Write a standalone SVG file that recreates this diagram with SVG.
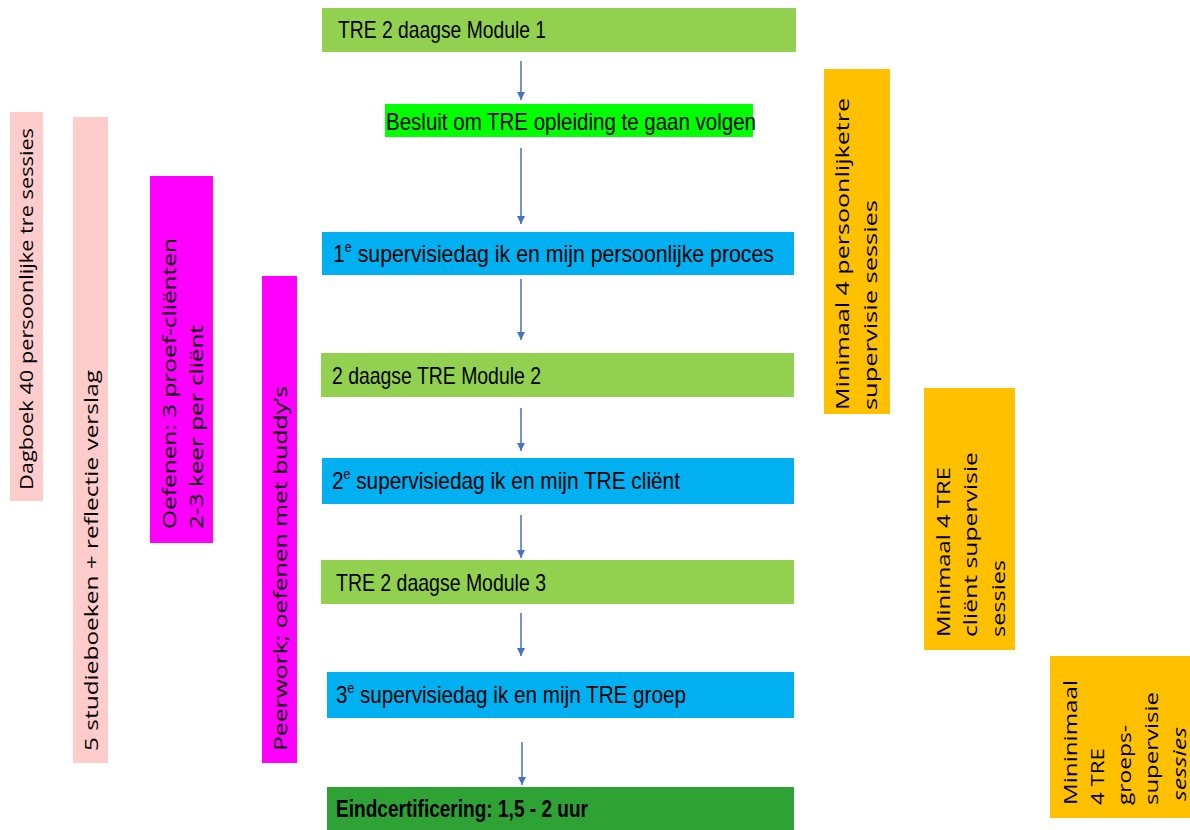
<svg xmlns="http://www.w3.org/2000/svg" width="1190" height="830" viewBox="0 0 1190 830">
<defs>
<style>
.t{font-family:"Liberation Sans",Arial,sans-serif;font-size:24px;fill:#000}
.b{font-weight:bold}
.v{font-family:"Open Sans","DejaVu Sans",sans-serif;font-size:18px;fill:#000}
.lg{fill:#92D050}
.bg{fill:#00FF00}
.bl{fill:#00B0F0}
.dg{fill:#2FA236}
.pk{fill:#FFCCCC}
.mg{fill:#FF00FF}
.or{fill:#FFC000}
.conn line{stroke:#4472C4;stroke-width:1.5;marker-end:url(#ah)}
</style>
<marker id="ah" viewBox="0 0 10 10" refX="10" refY="5" markerWidth="5.5" markerHeight="5.5" orient="auto" markerUnits="strokeWidth">
<path d="M0,0 L10,5 L0,10 z" fill="#4472C4"/>
</marker>
</defs>
<rect width="1190" height="830" fill="#fff"/>

<g id="n-module1">
<rect class="lg" x="322" y="8" width="474" height="44"/>
<text class="t" x="338" y="38" textLength="208" lengthAdjust="spacingAndGlyphs">TRE 2 daagse Module 1</text>
</g>
<g id="n-besluit">
<rect class="bg" x="385" y="104" width="368" height="33"/>
<text class="t" x="386" y="130" textLength="370" lengthAdjust="spacingAndGlyphs">Besluit om TRE opleiding te gaan volgen</text>
</g>
<g id="n-super1">
<rect class="bl" x="322" y="232" width="472" height="43"/>
<text class="t" x="333" y="262" textLength="441" lengthAdjust="spacingAndGlyphs">1<tspan font-size="14" dy="-10">e</tspan><tspan dy="10"> supervisiedag ik en mijn persoonlijke proces</tspan></text>
</g>
<g id="n-module2">
<rect class="lg" x="321" y="353" width="473" height="44"/>
<text class="t" x="332" y="384" textLength="209" lengthAdjust="spacingAndGlyphs">2 daagse TRE Module 2</text>
</g>
<g id="n-super2">
<rect class="bl" x="322" y="458" width="472" height="46"/>
<text class="t" x="332" y="489" textLength="348" lengthAdjust="spacingAndGlyphs">2<tspan font-size="14" dy="-10">e</tspan><tspan dy="10"> supervisiedag ik en mijn TRE cliënt</tspan></text>
</g>
<g id="n-module3">
<rect class="lg" x="321" y="560" width="473" height="44"/>
<text class="t" x="336" y="591" textLength="210" lengthAdjust="spacingAndGlyphs">TRE 2 daagse Module 3</text>
</g>
<g id="n-super3">
<rect class="bl" x="327" y="672" width="467" height="46"/>
<text class="t" x="336" y="703" textLength="350" lengthAdjust="spacingAndGlyphs">3<tspan font-size="14" dy="-10">e</tspan><tspan dy="10"> supervisiedag ik en mijn TRE groep</tspan></text>
</g>
<g id="n-eind">
<rect class="dg" x="327" y="787" width="467" height="43"/>
<text class="t b" x="336" y="817" textLength="252" lengthAdjust="spacingAndGlyphs">Eindcertificering: 1,5 - 2 uur</text>
</g>

<g id="n-dagboek">
<rect class="pk" x="10" y="112" width="33" height="389"/>
<text class="v" transform="translate(33,490) rotate(-90)" textLength="362" lengthAdjust="spacingAndGlyphs">Dagboek 40 persoonlijke tre sessies</text>
</g>
<g id="n-studieboeken">
<rect class="pk" x="73" y="117" width="35" height="646"/>
<text class="v" transform="translate(98,751) rotate(-90)" textLength="381" lengthAdjust="spacingAndGlyphs">5 studieboeken + reflectie verslag</text>
</g>
<g id="n-oefenen">
<rect class="mg" x="150" y="176" width="63" height="367"/>
<text class="v" transform="translate(176,529) rotate(-90)" textLength="291" lengthAdjust="spacingAndGlyphs">Oefenen: 3 proef-cliënten</text>
<text class="v" transform="translate(203,529) rotate(-90)" textLength="204" lengthAdjust="spacingAndGlyphs">2-3 keer per cliënt</text>
</g>
<g id="n-peerwork">
<rect class="mg" x="262" y="276" width="35" height="487"/>
<text class="v" transform="translate(287,751) rotate(-90)" textLength="365" lengthAdjust="spacingAndGlyphs">Peerwork; oefenen met buddy’s</text>
</g>

<g id="n-persoonlijk">
<rect class="or" x="824" y="69" width="66" height="345"/>
<text class="v" transform="translate(849,410) rotate(-90)" textLength="312" lengthAdjust="spacingAndGlyphs">Minimaal 4 persoonlijketre</text>
<text class="v" transform="translate(877,410) rotate(-90)" textLength="210" lengthAdjust="spacingAndGlyphs">supervisie sessies</text>
</g>
<g id="n-client">
<rect class="or" x="924" y="388" width="91" height="262"/>
<text class="v" transform="translate(950,637) rotate(-90)" textLength="170" lengthAdjust="spacingAndGlyphs">Minimaal 4 TRE</text>
<text class="v" transform="translate(977,637) rotate(-90)" textLength="185" lengthAdjust="spacingAndGlyphs">cliënt supervisie</text>
<text class="v" transform="translate(1005,637) rotate(-90)" textLength="77" lengthAdjust="spacingAndGlyphs">sessies</text>
</g>
<g id="n-groep">
<rect class="or" x="1050" y="656" width="140" height="162"/>
<text class="v" transform="translate(1077,805) rotate(-90)" textLength="125" lengthAdjust="spacingAndGlyphs">Mininimaal</text>
<text class="v" transform="translate(1104,805) rotate(-90)" textLength="57" lengthAdjust="spacingAndGlyphs">4 TRE</text>
<text class="v" transform="translate(1131,805) rotate(-90)" textLength="80" lengthAdjust="spacingAndGlyphs">groeps-</text>
<text class="v" transform="translate(1158,805) rotate(-90)" textLength="113" lengthAdjust="spacingAndGlyphs">supervisie</text>
<text class="v" font-style="italic" transform="translate(1186,801) rotate(-90)" textLength="74" lengthAdjust="spacingAndGlyphs">sessies</text>
</g>

<g id="connectors" class="conn">
<line x1="521" y1="61" x2="521" y2="100"/>
<line x1="521" y1="148" x2="521" y2="224"/>
<line x1="521" y1="279" x2="521" y2="340"/>
<line x1="521" y1="408" x2="521" y2="451"/>
<line x1="521" y1="515" x2="521" y2="558"/>
<line x1="521" y1="613" x2="521" y2="656"/>
<line x1="522" y1="742" x2="522" y2="785"/>
</g>
</svg>
